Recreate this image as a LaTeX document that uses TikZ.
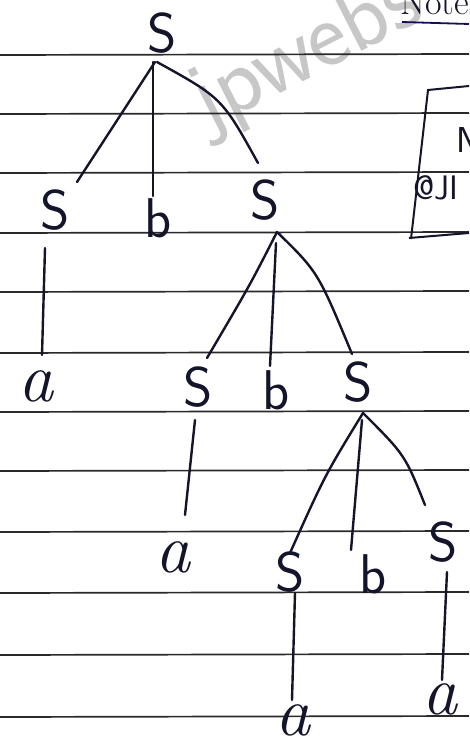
\documentclass[tikz,border=0pt]{standalone}
\usetikzlibrary{calc}
\definecolor{inkc}{HTML}{14142A}
\definecolor{rulec}{HTML}{2A2A2A}
\begin{document}
\begin{tikzpicture}[x=1pt,y=-1pt,
  rule/.style={line width=1.7pt, draw=rulec},
  ink/.style={line width=2.4pt, draw=inkc, line cap=round},
  nt/.style={font=\sffamily\fontsize{56}{56}\selectfont, text=inkc, inner sep=0pt},
  tb/.style={font=\sffamily\fontsize{56}{56}\selectfont, text=inkc, inner sep=0pt},
  tm/.style={font=\itshape\fontsize{70}{70}\selectfont, text=inkc, inner sep=0pt}]
\useasboundingbox (0,0) rectangle (469,754);
\fill[white] (0,0) rectangle (469,754);
\begin{scope}
\clip (0,0) rectangle (469,754);
% watermark
\node[font=\sffamily\fontsize{95}{95}\selectfont, text=black!22, rotate=27, inner sep=0pt, anchor=base west] (wm) at (208,130) {jpwebs};
% ruled lines
\foreach \yy in {55,114,173,233,292,353,412,471,532,593,655,717}
  \draw[rule] (0,\yy) -- (469,\yy-1);
% top-right fragments
\node[font=\fontsize{36}{36}\selectfont, text=inkc, inner sep=0pt, anchor=base west] (notes) at (400,15) {Notes};
\draw[line width=1.8pt, draw=inkc!80!blue] (402,22) -- (469,24);
\draw[line width=2pt, draw=inkc] (469,86) -- (428,90) -- (411,239);
\draw[line width=2pt, draw=inkc] (409,238) -- (469,233);
\node[font=\sffamily\fontsize{36}{36}\selectfont, text=inkc, inner sep=0pt, anchor=west] (nn) at (456,140) {N};
\node[font=\sffamily\fontsize{34}{34}\selectfont, text=inkc, inner sep=0pt, anchor=west] (aj) at (413,188) {@JI};
\end{scope}
% tree nodes
\node[nt] (r)  at (162,33)  {S};
\node[nt] (s1) at (55,210)  {S};
\node[tb] (b1) at (158,218) {b};
\node[nt] (s2) at (265,200) {S};
\node[tm] (a1) at (36,386)  {a};
\node[nt] (s3) at (198,387) {S};
\node[tb] (b2) at (276,390) {b};
\node[nt] (s4) at (358,382) {S};
\node[tm] (a2) at (173,557) {a};
\node[nt] (s5) at (290,572) {S};
\node[tb] (b3) at (373,574) {b};
\node[nt] (s6) at (443,542) {S};
\node[tm] (a3) at (293,720) {a};
\node[tm] (a4) at (440,699) {a};
% tree edges
\draw[ink] ([shift={(-7,29)}]r.center) -- ([shift={(22,-28)}]s1.center);
\draw[ink] ([shift={(-9,29)}]r.center) -- ([shift={(-5,-22)}]b1.center);
\draw[ink] ([shift={(-5,29)}]r.center) .. controls (222,98) .. ([shift={(-7,-37)}]s2.center);
\draw[ink] ([shift={(-10,38)}]s1.center) -- ([shift={(6,-31)}]a1.center);
\draw[ink] ([shift={(12,32)}]s2.center) .. controls (250,285) .. ([shift={(9,-29)}]s3.center);
\draw[ink] ([shift={(11,43)}]s2.center) -- ([shift={(-6,-24)}]b2.center);
\draw[ink] ([shift={(12,32)}]s2.center) .. controls (318,272) .. ([shift={(-6,-28)}]s4.center);
\draw[ink] ([shift={(-3,33)}]s3.center) -- ([shift={(12,-42)}]a2.center);
\draw[ink] ([shift={(5,31)}]s4.center) .. controls (325,475) .. ([shift={(0,-19)}]s5.center);
\draw[ink] ([shift={(4,38)}]s4.center) -- ([shift={(-22,-24)}]b3.center);
\draw[ink] ([shift={(5,31)}]s4.center) .. controls (405,455) .. ([shift={(-18,-37)}]s6.center);
\draw[ink] ([shift={(5,21)}]s5.center) -- ([shift={(-1,-20)}]a3.center);
\draw[ink] ([shift={(4,30)}]s6.center) -- ([shift={(2,-19)}]a4.center);
\end{tikzpicture}
\end{document}
